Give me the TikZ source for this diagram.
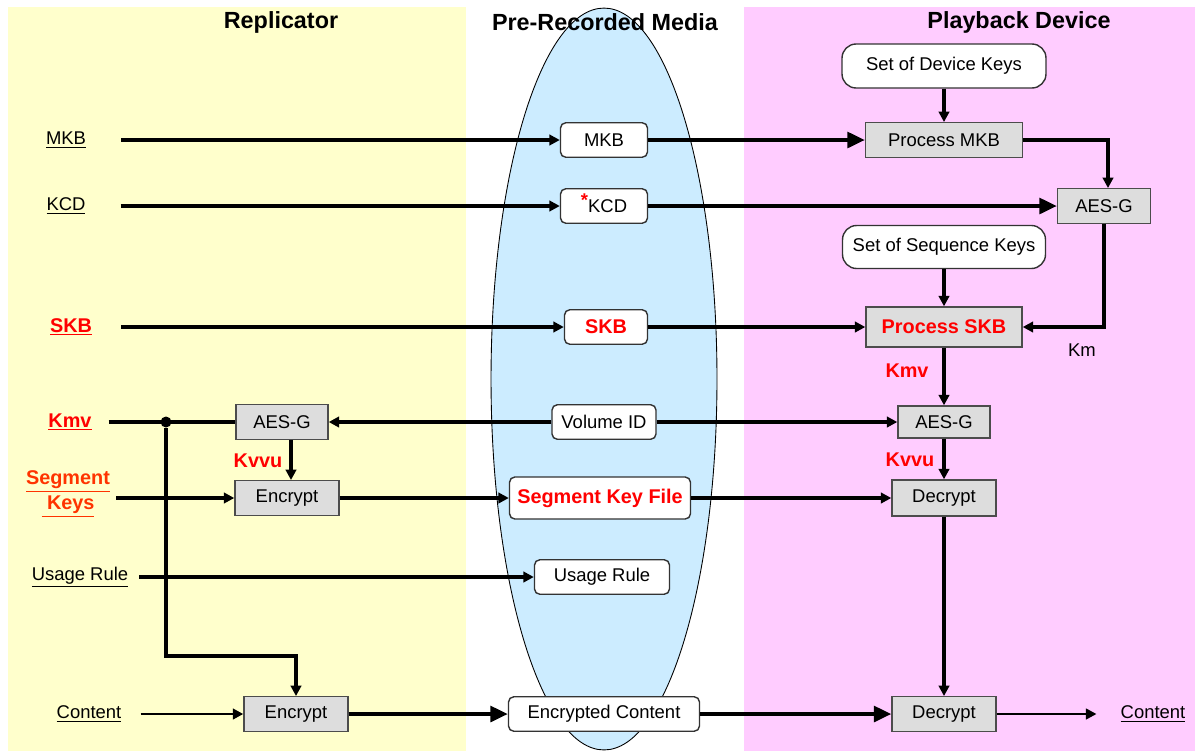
\documentclass[tikz,border=0pt]{standalone}
\usepackage{fontspec}
\setmainfont{Liberation Sans}
\usepackage{tikz}
\usetikzlibrary{arrows.meta, calc}

\definecolor{repyellow}{HTML}{FFFFCC}
\definecolor{playpink}{HTML}{FFCCFF}
\definecolor{mediablue}{HTML}{CCECFF}
\definecolor{procgray}{HTML}{DDDDDD}
\definecolor{keyred}{HTML}{FF0000}
\definecolor{segorange}{HTML}{FF3300}

\begin{document}
\begin{tikzpicture}[x=0.02cm, y=-0.02cm,
        font=\fontsize{10.5}{12}\selectfont,
        box/.style={draw=black!80, fill=white, rounded corners=3pt, line width=0.8pt, minimum height=0.69cm, inner sep=2pt},
        proc/.style={draw=black!70, fill=procgray, line width=0.8pt, minimum height=0.69cm, inner sep=2pt},
        keytext/.style={text=keyred, font=\fontsize{11.3}{13}\selectfont\bfseries},
        title/.style={font=\fontsize{13.3}{15}\selectfont\bfseries},
        flow/.style={line width=1.9pt, -{Triangle[length=6pt,width=6pt]}},
        bigflow/.style={line width=2.1pt, -{Triangle[length=10pt,width=9pt]}}]
        \useasboundingbox (0,0) rectangle (1195,751);

        \fill[repyellow] (8,7) rectangle (466,751);
        \fill[playpink] (744,7) rectangle (1195,751);
        \draw[fill=mediablue, line width=0.5pt] (604,379) ellipse [x radius=2.26cm, y radius=7.42cm];

        \node[title] (reptitle) at (281,22) {Replicator};
        \node[title] (medtitle) at (605,22) {Pre-Recorded Media};
        \node[title] (devtitle) at (1019,22) {Playback Device};

        % inputs
        \node (mkbin) at (66,140) {\underline{MKB}};
        \node (kcdin) at (66,206) {\underline{KCD}};
        \node[keytext] (skbin) at (71,327) {\underline{SKB}};
        \node[keytext] (kmvin) at (70,422) {\underline{Kmv}};
        \node[keytext, text=segorange, align=center, font=\fontsize{11.3}{14.5}\selectfont\bfseries] (segin) at (68,494) {\underline{Segment}\\\underline{\ Keys}};
        \node (usagein) at (80,577) {\underline{Usage Rule}};
        \node (contin) at (89,714) {\underline{Content}};

        % replicator
        \node[proc, minimum width=1.84cm] (aesl) at (282,422) {AES-G};
        \node[proc, minimum width=2.08cm] (enc1) at (287,498) {Encrypt};
        \node[proc, minimum width=2.08cm] (enc2) at (296,714) {Encrypt};
        \node[keytext] (kvvul) at (258,461) {Kvvu};
        \node[circle, fill=black, inner sep=0pt, minimum size=0.22cm] (split) at (166,422) {};

        % media
        \node[box, minimum width=1.74cm] (mkb) at (604,140) {MKB};
        \node[box, minimum width=1.74cm] (kcd) at (604,206) {{\color{keyred}\smash{\raisebox{0.6ex}{\bfseries *}}}KCD};
        \node[box, keytext, minimum width=1.66cm] (skb) at (606,327) {SKB};
        \node[box, minimum width=2.08cm] (volid) at (604,422) {Volume ID};
        \node[box, keytext, minimum width=3.62cm, minimum height=0.84cm] (skf) at (600,498) {Segment Key File};
        \node[box, minimum width=2.7cm] (usage) at (602,577) {Usage Rule};
        \node[box, minimum width=3.82cm] (enccont) at (604,714) {Encrypted Content};

        % playback
        \node[box, rounded corners=8pt, minimum width=4.08cm, minimum height=0.88cm] (devkeys) at (944,66) {Set of Device Keys};
        \node[proc, minimum width=3.14cm] (pmkb) at (944,140) {Process MKB};
        \node[proc, minimum width=1.86cm] (aesr1) at (1104,206) {AES-G};
        \node[box, rounded corners=8pt, minimum width=4.06cm, minimum height=0.86cm] (seqkeys) at (944,247) {Set of Sequence Keys};
        \node[proc, keytext, minimum width=3.12cm, minimum height=0.8cm] (pskb) at (944,327) {Process SKB};
        \node (km) at (1082,350) {Km};
        \node[keytext] (kmvr) at (907,371) {Kmv};
        \node[proc, minimum width=1.84cm, minimum height=0.64cm] (aesr2) at (944,422) {AES-G};
        \node[keytext] (kvvur) at (910,460) {Kvvu};
        \node[proc, minimum width=2.08cm, minimum height=0.72cm] (dec1) at (944,498) {Decrypt};
        \node[proc, minimum width=2.08cm] (dec2) at (944,714) {Decrypt};
        \node (contout) at (1153,714) {\underline{Content}};

        \draw[flow, shorten <=0.58cm] (mkbin) -- (mkb);
        \draw[flow, shorten <=0.58cm] (kcdin) -- (kcd);
        \draw[flow, shorten <=0.46cm] (skbin) -- (skb);
        \draw[line width=1.9pt, shorten <=0.22cm] (kmvin) -- (aesl);
        \draw[flow] (segin.east |- enc1) -- (enc1);
        \draw[flow, shorten <=0.1cm] (usagein) -- (usage);
        \draw[line width=1.5pt, -{Triangle[length=6pt,width=6pt]}, shorten <=0.26cm] (contin) -- (enc2);
        \draw[flow] ([xshift=0.18cm]aesl.south) -- ([xshift=0.18cm]aesl.south |- enc1.north);
        \draw[flow] (split) -- ++(0,234) -| (enc2);

        \draw[flow] (volid) -- (aesl);
        \draw[flow] (volid) -- (aesr2);
        \draw[flow] (enc1) -- (skf);
        \draw[bigflow] (enc2) -- (enccont);
        \draw[bigflow] (mkb) -- (pmkb);
        \draw[bigflow] (kcd) -- (aesr1);
        \draw[flow] (skb) -- (pskb);
        \draw[flow] (skf) -- (dec1);
        \draw[bigflow] (enccont) -- (dec2);

        \draw[flow] (devkeys) -- (pmkb);
        \draw[flow] (pmkb.east) -| ([xshift=0.08cm]aesr1.north);
        \draw[flow] (seqkeys) -- (pskb);
        \draw[flow] (aesr1) |- (pskb);
        \draw[flow] (pskb) -- (aesr2);
        \draw[flow] (aesr2) -- (dec1);
        \draw[flow] (dec1) -- (dec2);
        \draw[line width=1.4pt, -{Triangle[length=6pt,width=6pt]}, shorten >=0.36cm] (dec2) -- (contout);
\end{tikzpicture}
\end{document}
